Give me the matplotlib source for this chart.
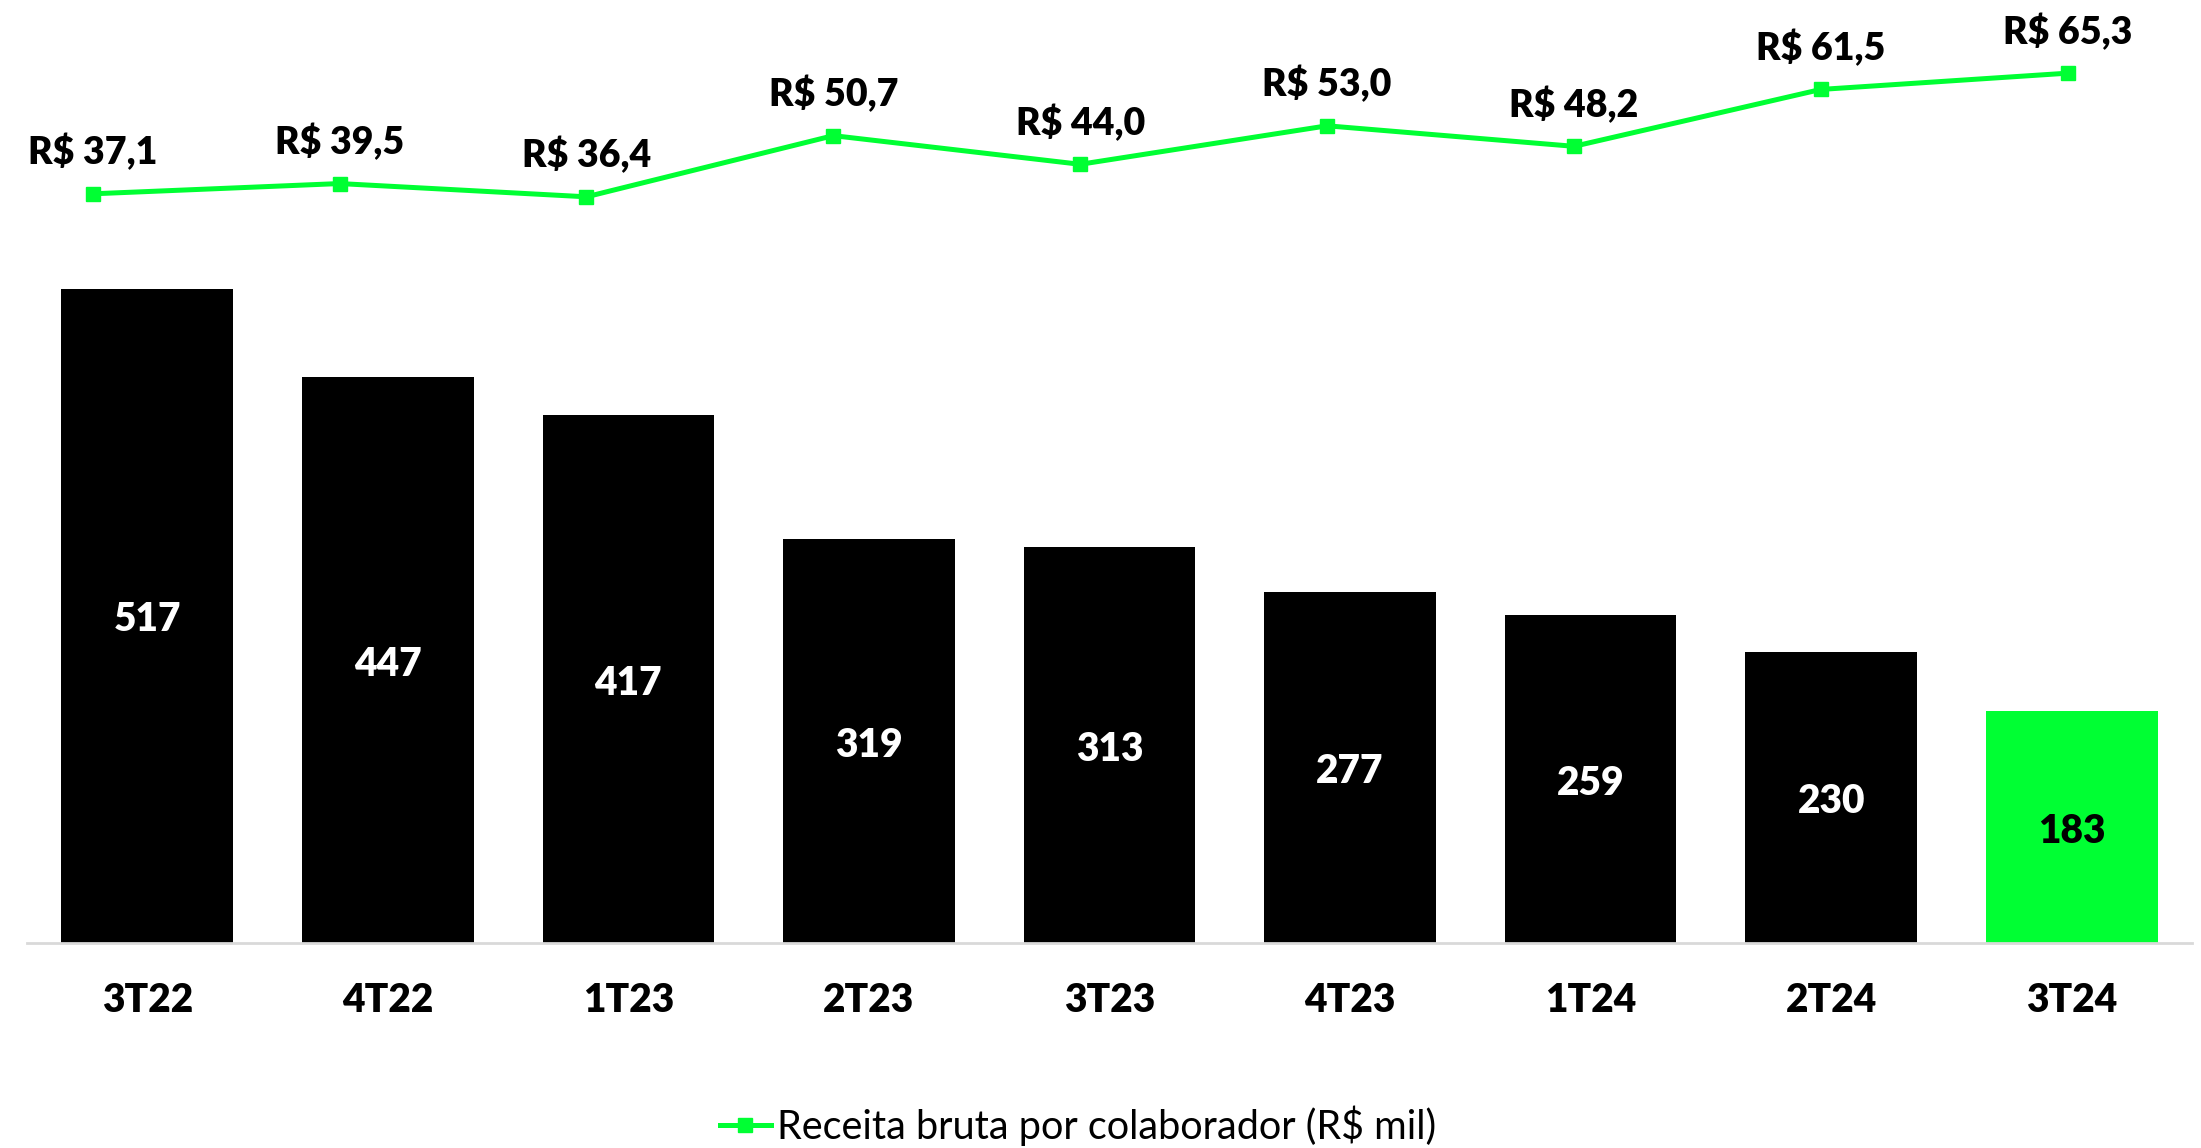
import matplotlib
matplotlib.use("Agg")
import matplotlib.pyplot as plt
import numpy as np

# dados
trimestres = ["3T22", "4T22", "1T23", "2T23", "3T23", "4T23", "1T24", "2T24", "3T24"]
colaboradores = [517, 447, 417, 319, 313, 277, 259, 230, 183]
receita_por_colab = [37.1, 39.5, 36.4, 50.7, 44.0, 53.0, 48.2, 61.5, 65.3]
legenda = "Receita bruta por colaborador (R$ mil)"

VERDE = "#00FF33"
PESO = 'heavy'
plt.rcParams['font.family'] = ['Lato', 'DejaVu Sans']

W, H = 2201, 1148
fig = plt.figure(figsize=(W/100, H/100), dpi=100)
rect = [27/W, 1 - 943/H, 2165/W, 943/H]
ax = fig.add_axes(rect)

x = np.arange(len(trimestres))
cores = ["black"]*(len(trimestres)-1) + [VERDE]
ax.bar(x, colaboradores, width=0.714, color=cores, zorder=2)
for xi, v, c in zip(x, colaboradores, cores):
    ax.annotate(str(v), (xi, v/2), xytext=(0, -3), textcoords='offset points',
                ha='center', va='center', fontsize=28, fontweight=PESO,
                color='black' if c == VERDE else 'white')

ax.set_xlim(-0.5, len(trimestres)-0.5)
ax.set_ylim(0, 745)
ax.set_xticks(x)
ax.set_xticklabels(trimestres, fontsize=28, fontweight=PESO)
ax.tick_params(axis='x', length=0, pad=28)
ax.set_yticks([])
for s in ['top', 'left', 'right']:
    ax.spines[s].set_visible(False)
ax.spines['bottom'].set_color('#D9D9D9')
ax.spines['bottom'].set_linewidth(2)

# linha no eixo secundário (como no Excel)
ax2 = fig.add_axes(rect, frameon=False)
xl = np.arange(len(receita_por_colab))
linha, = ax2.plot(xl, receita_por_colab, color=VERDE, lw=3.6, marker='s', ms=10.5,
                  label=legenda)
for xi, v in zip(xl, receita_por_colab):
    ax2.annotate("R$ " + f"{v:.1f}".replace('.', ','), (xi, v), xytext=(0, 21),
                 textcoords='offset points', ha='center', va='baseline',
                 fontsize=27, fontweight=PESO)
ax2.set_xlim(-0.266, 8.503)
ax2.set_ylim(-138, 82.4)
ax2.axis('off')

fig.legend(handles=[linha], loc='center', bbox_to_anchor=(1078/W, 1 - 1126/H),
           frameon=False, fontsize=28.5, handlelength=1.3, handletextpad=0.15)

fig.savefig("out.png", dpi=100)
